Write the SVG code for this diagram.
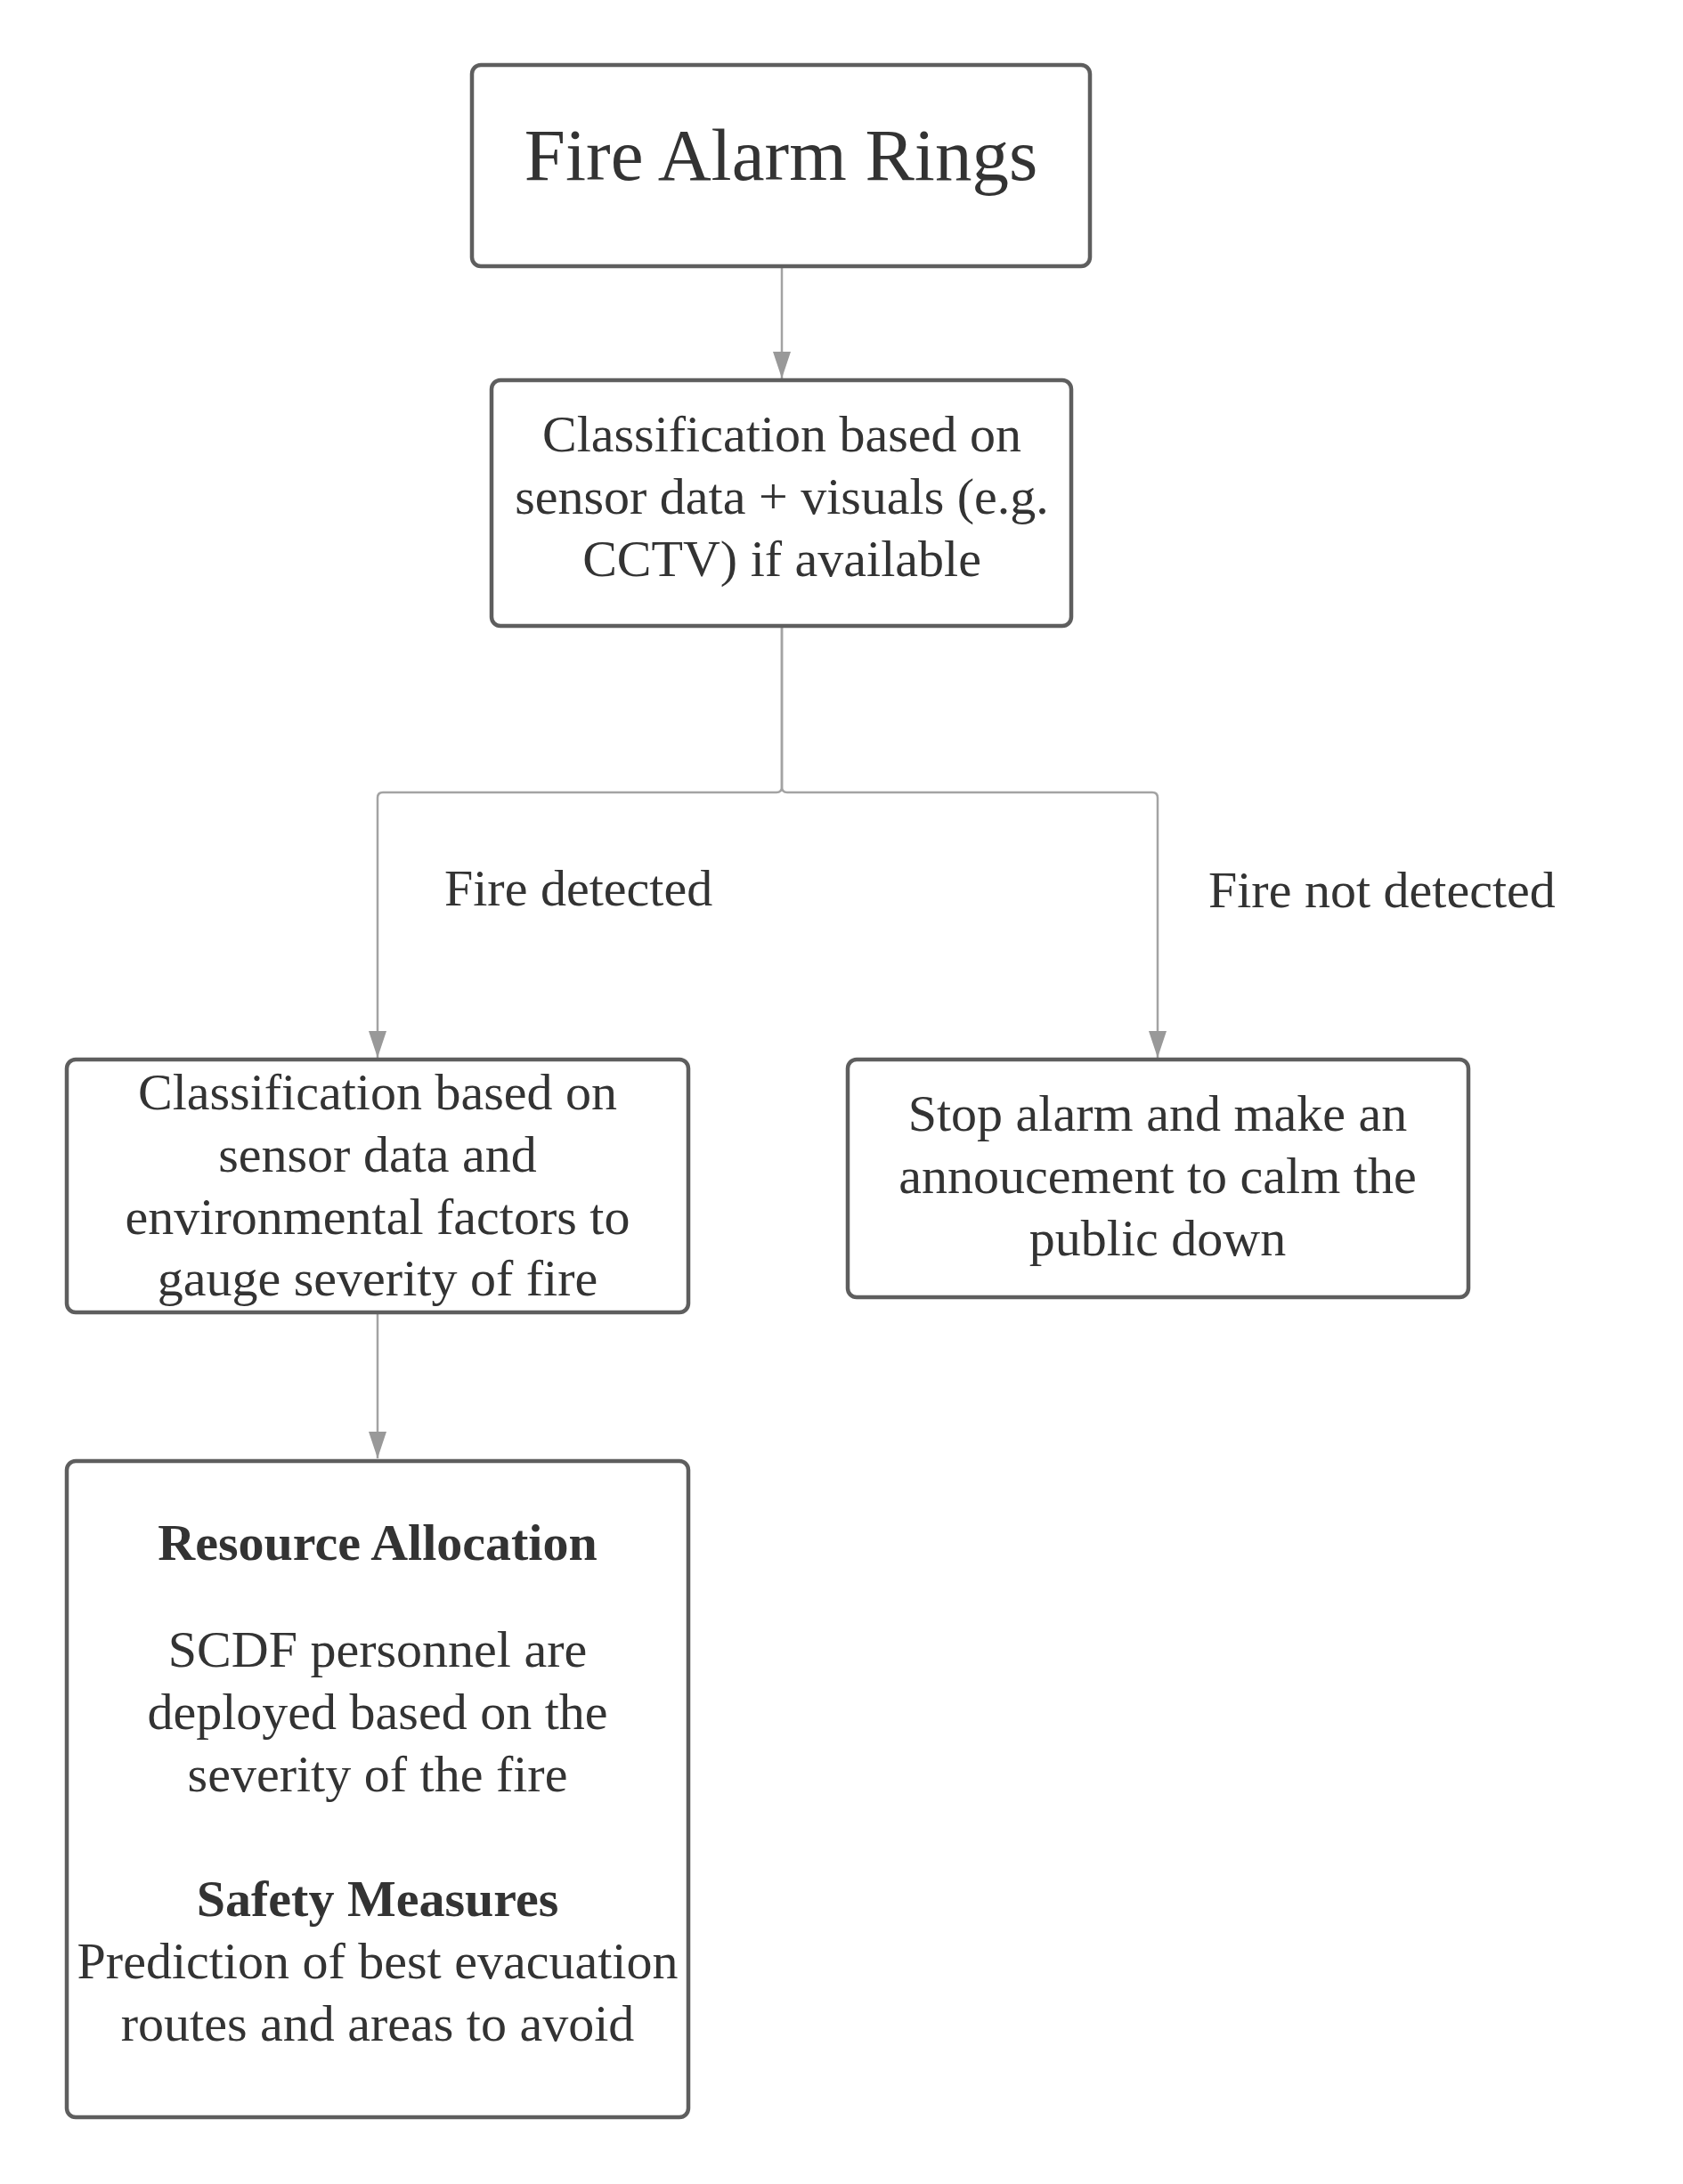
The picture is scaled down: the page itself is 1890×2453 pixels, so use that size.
<svg xmlns="http://www.w3.org/2000/svg" width="1890" height="2453" viewBox="0 0 1890 2453">
<style>
.box{fill:#ffffff;stroke:#5e5e5e;stroke-width:4.5}
.t{font-family:"Liberation Serif","Times New Roman",serif;font-size:58px;fill:#333333;text-anchor:middle}
.b{font-weight:bold}
.lbl{font-family:"Liberation Serif","Times New Roman",serif;font-size:58px;fill:#333333}
.c{fill:none;stroke:#a3a3a3;stroke-width:2.5}
</style>
<defs>
<marker id="ah" markerUnits="userSpaceOnUse" markerWidth="30" markerHeight="20" refX="30" refY="10" orient="auto" viewBox="0 0 30 20">
<path d="M0,0 L30,10 L0,20 z" fill="#999999"/>
</marker>
</defs>
<rect width="1890" height="2453" fill="#ffffff"/>
<g id="connectors">
<path class="c" d="M878,299 L878,425" marker-end="url(#ah)"/>
<path class="c" d="M878,703 L878,884 Q878,890 872,890 L430,890 Q424,890 424,896 L424,1188" marker-end="url(#ah)"/>
<path class="c" d="M878,703 L878,884 Q878,890 884,890 L1294,890 Q1300,890 1300,896 L1300,1188" marker-end="url(#ah)"/>
<path class="c" d="M424,1474 L424,1638" marker-end="url(#ah)"/>
<text class="lbl" x="499" y="1017">Fire detected</text>
<text class="lbl" x="1357" y="1019">Fire not detected</text>
</g>
<g id="node-fire-alarm">
<rect class="box" x="530" y="73" width="694" height="226" rx="10"/>
<text class="t" x="877" y="202" style="font-size:83px">Fire Alarm Rings</text>
</g>
<g id="node-classification-1">
<rect class="box" x="552" y="427" width="651" height="276" rx="10"/>
<text class="t" x="878" y="507">Classification based on</text>
<text class="t" x="878" y="577">sensor data + visuals (e.g.</text>
<text class="t" x="878" y="647">CCTV) if available</text>
</g>
<g id="node-classification-2">
<rect class="box" x="75" y="1190" width="698" height="284" rx="10"/>
<text class="t" x="424" y="1246">Classification based on</text>
<text class="t" x="424" y="1316">sensor data and</text>
<text class="t" x="424" y="1386">environmental factors to</text>
<text class="t" x="424" y="1455">gauge severity of fire</text>
</g>
<g id="node-stop-alarm">
<rect class="box" x="952" y="1190" width="697" height="267" rx="10"/>
<text class="t" x="1300" y="1270">Stop alarm and make an</text>
<text class="t" x="1300" y="1340">annoucement to calm the</text>
<text class="t" x="1300" y="1410">public down</text>
</g>
<g id="node-resource">
<rect class="box" x="75" y="1641" width="698" height="737" rx="10"/>
<text class="t b" x="424" y="1752">Resource Allocation</text>
<text class="t" x="424" y="1872">SCDF personnel are</text>
<text class="t" x="424" y="1942">deployed based on the</text>
<text class="t" x="424" y="2012">severity of the fire</text>
<text class="t b" x="424" y="2152">Safety Measures</text>
<text class="t" x="424" y="2222">Prediction of best evacuation</text>
<text class="t" x="424" y="2292">routes and areas to avoid</text>
</g>
</svg>
